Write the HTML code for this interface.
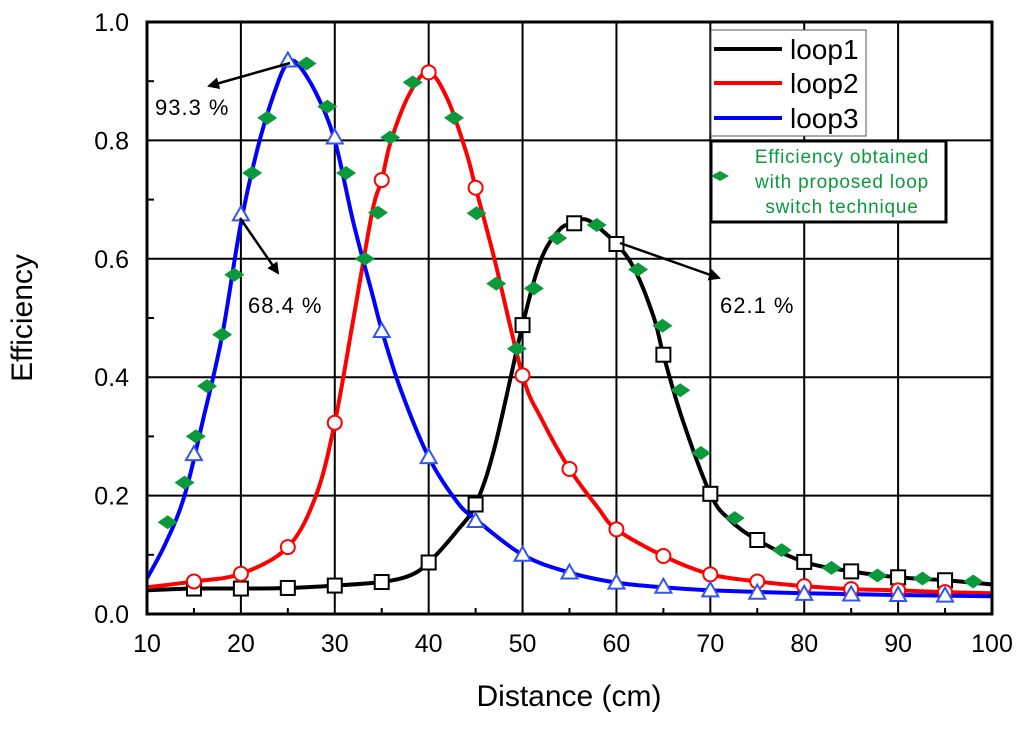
<!DOCTYPE html>
<html><head><meta charset="utf-8"><style>
body{margin:0;background:#fff;}
svg text{font-family:"Liberation Sans",sans-serif;}
</style></head><body>
<svg id="chart" width="1024" height="724" xmlns="http://www.w3.org/2000/svg">
<defs><marker id="ah" markerWidth="12" markerHeight="12" refX="10" refY="6" orient="auto" markerUnits="userSpaceOnUse"><path d="M0,0 L12,6 L0,12 z" fill="#000"/></marker></defs>
<g id="grid"></g>
<g id="series"></g>
<g id="axes"></g>
<text x="569" y="706" font-size="30" text-anchor="middle">Distance (cm)</text>
<text transform="translate(32,318) rotate(-90)" font-size="30" text-anchor="middle">Efficiency</text>
<g><line x1="290" y1="63" x2="209" y2="86" stroke="#000" stroke-width="2.5" marker-end="url(#ah)"/><text x="155" y="115" font-size="22" letter-spacing="1">93.3 %</text></g>
<g><line x1="240" y1="218" x2="278" y2="273" stroke="#000" stroke-width="2.5" marker-end="url(#ah)"/><text x="248" y="313" font-size="22" letter-spacing="1">68.4 %</text></g>
<g><line x1="620" y1="243" x2="719" y2="278" stroke="#000" stroke-width="2.5" marker-end="url(#ah)"/><text x="720" y="313" font-size="22" letter-spacing="1">62.1 %</text></g>
<g>
<rect x="711" y="30" width="155" height="106" fill="#fff" stroke="#555" stroke-width="1"/>
<line x1="714" y1="49" x2="782" y2="49" stroke="#000" stroke-width="4"/><text x="790" y="59" font-size="28">loop1</text>
<line x1="714" y1="83" x2="782" y2="83" stroke="#f00" stroke-width="4"/><text x="790" y="93" font-size="28">loop2</text>
<line x1="714" y1="118" x2="782" y2="118" stroke="#00f" stroke-width="4"/><text x="790" y="128" font-size="28">loop3</text>
</g>
<g>
<rect x="711" y="141" width="235" height="81" fill="#fff" stroke="#000" stroke-width="3"/>
<path d="M711,176 L720,171 L729,176 L720,181 Z" fill="#0a9a3c"/>
<text x="842" y="163" font-size="19" letter-spacing="0.8" fill="#0a9a3c" text-anchor="middle">Efficiency obtained</text>
<text x="842" y="188" font-size="19" letter-spacing="0.8" fill="#0a9a3c" text-anchor="middle">with proposed loop</text>
<text x="842" y="213" font-size="19" letter-spacing="0.8" fill="#0a9a3c" text-anchor="middle">switch technique</text>
</g>
</svg>
<script>
const xTicks=[10,20,30,40,50,60,70,80,90,100];
const yTicks=[0,0.2,0.4,0.6,0.8,1.0];
const loop1X=[10,15,20,25,30,35,38,40,43,45,47,50,52,54,55.5,57,60,62,64,65,67,70,72,75,80,85,90,95,100];
const loop1Y=[0.04,0.043,0.043,0.044,0.048,0.054,0.065,0.087,0.14,0.185,0.28,0.488,0.6,0.65,0.66,0.665,0.625,0.58,0.5,0.438,0.33,0.203,0.16,0.125,0.088,0.072,0.062,0.057,0.05];
const loop1MX=[15,20,25,30,35,40,45,50,55.5,60,65,70,75,80,85,90,95];
const loop1MY=[0.043,0.043,0.044,0.048,0.054,0.087,0.185,0.488,0.66,0.625,0.438,0.203,0.125,0.088,0.072,0.062,0.057];
const loop2X=[10,15,20,25,28,30,32,34,35,36,38,40,42,44,45,47,50,52,55,58,60,65,70,75,80,85,90,95,100];
const loop2Y=[0.045,0.055,0.068,0.113,0.2,0.323,0.5,0.68,0.733,0.8,0.88,0.915,0.87,0.78,0.72,0.6,0.403,0.33,0.245,0.18,0.143,0.098,0.067,0.055,0.047,0.042,0.04,0.037,0.035];
const loop2MX=[15,20,25,30,35,40,45,50,55,60,65,70,75,80,85,90,95];
const loop2MY=[0.055,0.068,0.113,0.323,0.733,0.915,0.72,0.403,0.245,0.143,0.098,0.067,0.055,0.047,0.042,0.04,0.037];
const loop3X=[10,12,14,16,18,20,22,24,25,26,28,30,32,34,35,37,40,43,45,50,55,60,65,70,80,90,100];
const loop3Y=[0.06,0.12,0.2,0.33,0.47,0.66,0.8,0.9,0.93,0.93,0.88,0.8,0.66,0.54,0.48,0.38,0.265,0.19,0.16,0.1,0.07,0.053,0.045,0.04,0.035,0.032,0.03];
const loop3MX=[15,20,25,30,35,40,45,50,55,60,65,70,75,80,85,90,95];
const loop3MY=[0.27,0.675,0.935,0.805,0.478,0.265,0.157,0.1,0.07,0.053,0.046,0.04,0.036,0.034,0.033,0.032,0.031];
const propX=[12.2,14,15.2,16.4,18,19.3,21.2,22.8,27,29.2,31.2,33.2,34.6,35.9,38.3,42.7,45.1,47.2,49.4,51.2,53.7,57.9,62.3,64.9,66.8,69,72.6,77.6,82.9,87.8,92.6,98];
const propY=[0.155,0.222,0.3,0.385,0.472,0.573,0.745,0.838,0.93,0.857,0.745,0.6,0.678,0.805,0.898,0.838,0.677,0.558,0.448,0.55,0.635,0.657,0.582,0.487,0.378,0.272,0.162,0.108,0.078,0.065,0.06,0.055];

const X0=147,X1=992,Y0=614,Y1=22;
const sx=v=>X0+(v-10)/90*(X1-X0);
const sy=v=>Y0-v*(Y0-Y1);
const NS='http://www.w3.org/2000/svg';
function mk(tag,attrs,parent){const e=document.createElementNS(NS,tag);for(const k in attrs)e.setAttribute(k,attrs[k]);parent.appendChild(e);return e;}
const grid=document.getElementById('grid'),axes=document.getElementById('axes'),ser=document.getElementById('series');
xTicks.forEach(t=>{
 const l=mk('line',{x1:sx(t),x2:sx(t),y1:Y1,y2:Y0,stroke:'#000','stroke-width':2},grid);
 
 
 const tx=mk('text',{x:sx(t),y:Y0+38,'font-size':25,'text-anchor':'middle'},axes);tx.textContent=t;
 
 
});
for(let t=15;t<100;t+=10){mk('line',{x1:sx(t),x2:sx(t),y1:Y0,y2:Y0-6,stroke:'#000','stroke-width':2},axes);}
yTicks.forEach(t=>{
 const l=mk('line',{x1:X0,x2:X1,y1:sy(t),y2:sy(t),stroke:'#000','stroke-width':2},grid);
 
 
 const tx=mk('text',{x:X0-18,y:sy(t)+9,'font-size':25,'text-anchor':'end'},axes);tx.textContent=t.toFixed(1);
 
 
});
for(let t=0.1;t<1;t+=0.2){mk('line',{x1:X0,x2:X0+7,y1:sy(t),y2:sy(t),stroke:'#000','stroke-width':2},axes);}
mk('rect',{x:X0,y:Y1,width:X1-X0,height:Y0-Y1,fill:'none',stroke:'#000','stroke-width':3},axes);
function smooth(xs,ys){const p=xs.map((x,i)=>[sx(x),sy(ys[i])]);let d='M'+p[0][0]+','+p[0][1];
 for(let i=0;i<p.length-1;i++){const a=p[i-1]||p[i],b=p[i],c=p[i+1],e=p[i+2]||c;
  d+=` C${b[0]+(c[0]-a[0])/6},${b[1]+(c[1]-a[1])/6} ${c[0]-(e[0]-b[0])/6},${c[1]-(e[1]-b[1])/6} ${c[0]},${c[1]}`;}return d;}
const curves=[[loop1X,loop1Y,'#000','loop1-line'],[loop2X,loop2Y,'#f00','loop2-line'],[loop3X,loop3Y,'#00f','loop3-line']];
curves.forEach(c=>{const p=mk('path',{d:smooth(c[0],c[1]),fill:'none',stroke:c[2],'stroke-width':4},ser);
 
 });
loop1MX.forEach((x,i)=>{const r=mk('rect',{x:sx(x)-7,y:sy(loop1MY[i])-7,width:14,height:14,fill:'#fff',stroke:'#000','stroke-width':2},ser);
 
 });
loop2MX.forEach((x,i)=>{const c=mk('circle',{cx:sx(x),cy:sy(loop2MY[i]),r:7,fill:'#fff',stroke:'#f00','stroke-width':2},ser);
 
 });
loop3MX.forEach((x,i)=>{const cx=sx(x),cy=sy(loop3MY[i]);const t=mk('path',{d:`M${cx},${cy-8} L${cx+8},${cy+6} L${cx-8},${cy+6} Z`,fill:'#fff',stroke:'#3355ee','stroke-width':2},ser);
 
 });
propX.forEach((x,i)=>{const cx=sx(x),cy=sy(propY[i]);const d=mk('path',{d:`M${cx-10},${cy} L${cx},${cy-7} L${cx+10},${cy} L${cx},${cy+7} Z`,fill:'#0a9a3c'},ser);
 
 });
</script>
</body></html>
